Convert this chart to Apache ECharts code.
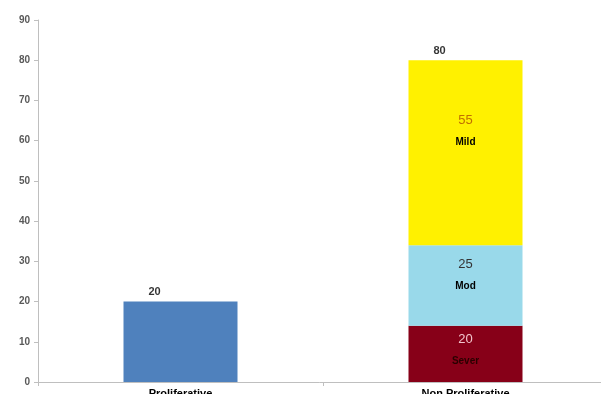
<!DOCTYPE html>
<html>
<head>
<meta charset="utf-8">
<style>
  html, body { margin: 0; padding: 0; background: #fff; overflow: hidden; }
  #chart { width: 601px; height: 394px; }
</style>
<script src="https://cdn.jsdelivr.net/npm/echarts@6/dist/echarts.min.js"></script>
</head>
<body>
<div id="chart"></div>
<script>
// data
var categories = ['Proliferative', 'Non Proliferative'];
var proliferative = [20, '-'];
var severHeight = ['-', 14];
var modHeight = ['-', 20];
var mildHeight = ['-', 46];
var totals = [20, 80];
var segmentNames = ['Sever', 'Mod', 'Mild'];
var segmentPercents = [20, 25, 55];

var font = '"Liberation Sans", Arial, sans-serif';

function segLabel(i, numColor, nameColor, dist) {
    return {
        show: true,
        position: 'insideTop',
        distance: dist,
        formatter: '{n|' + segmentPercents[i] + '}\n{t|' + segmentNames[i] + '}',
        rich: {
            n: { fontSize: 13, fontFamily: font, color: numColor, lineHeight: 22 },
            t: { fontSize: 10, fontWeight: 'bold', fontFamily: font, color: nameColor, lineHeight: 22 }
        }
    };
}

var myChart = echarts.init(document.getElementById('chart'));
var option = {
    animation: false,
    // v6 shrinks the grid to keep labels inside by default; the original lets them run off
    grid: { left: 38, top: 20, width: 570, height: 362, outerBoundsMode: 'none', containLabel: false },
    xAxis: {
        type: 'category',
        data: categories,
        axisLine: { lineStyle: { color: '#bfbfbf', width: 1 } },
        axisTick: { show: true, length: 4, lineStyle: { color: '#bfbfbf' } },
        axisLabel: { margin: 6, fontSize: 11, fontWeight: 'bold', fontFamily: font, color: '#000' }
    },
    yAxis: {
        type: 'value',
        min: 0,
        max: 90,
        interval: 10,
        splitLine: { show: false },
        axisLine: { show: true, lineStyle: { color: '#bfbfbf', width: 1 } },
        axisTick: { show: true, length: 4, lineStyle: { color: '#bfbfbf' } },
        axisLabel: { margin: 8, fontSize: 10, fontWeight: 'bold', fontFamily: font, color: '#595959' }
    },
    series: [
        {
            name: 'Proliferative',
            type: 'bar',
            stack: 'a',
            barWidth: 114,
            data: proliferative,
            itemStyle: { color: '#4f81bd' }
        },
        {
            name: 'Sever',
            type: 'bar',
            stack: 'a',
            barWidth: 114,
            data: severHeight,
            itemStyle: { color: '#870018' },
            label: segLabel(0, '#f2c4cc', '#2a0000', 3)
        },
        {
            name: 'Mod',
            type: 'bar',
            stack: 'a',
            barWidth: 114,
            data: modHeight,
            itemStyle: { color: '#99d9ea' },
            label: segLabel(1, '#333333', '#000000', 8)
        },
        {
            name: 'Mild',
            type: 'bar',
            stack: 'a',
            barWidth: 114,
            data: mildHeight,
            itemStyle: { color: '#fff100' },
            label: segLabel(2, '#c07000', '#000000', 49)
        },
        {
            name: 'Total',
            type: 'scatter',
            symbolSize: 0,
            data: totals,
            label: {
                show: true,
                position: 'top',
                distance: 5,
                offset: [-26, 1],
                fontSize: 11,
                fontWeight: 'bold',
                fontFamily: font,
                color: '#000'
            }
        }
    ]
};
myChart.setOption(option);
</script>
</body>
</html>
